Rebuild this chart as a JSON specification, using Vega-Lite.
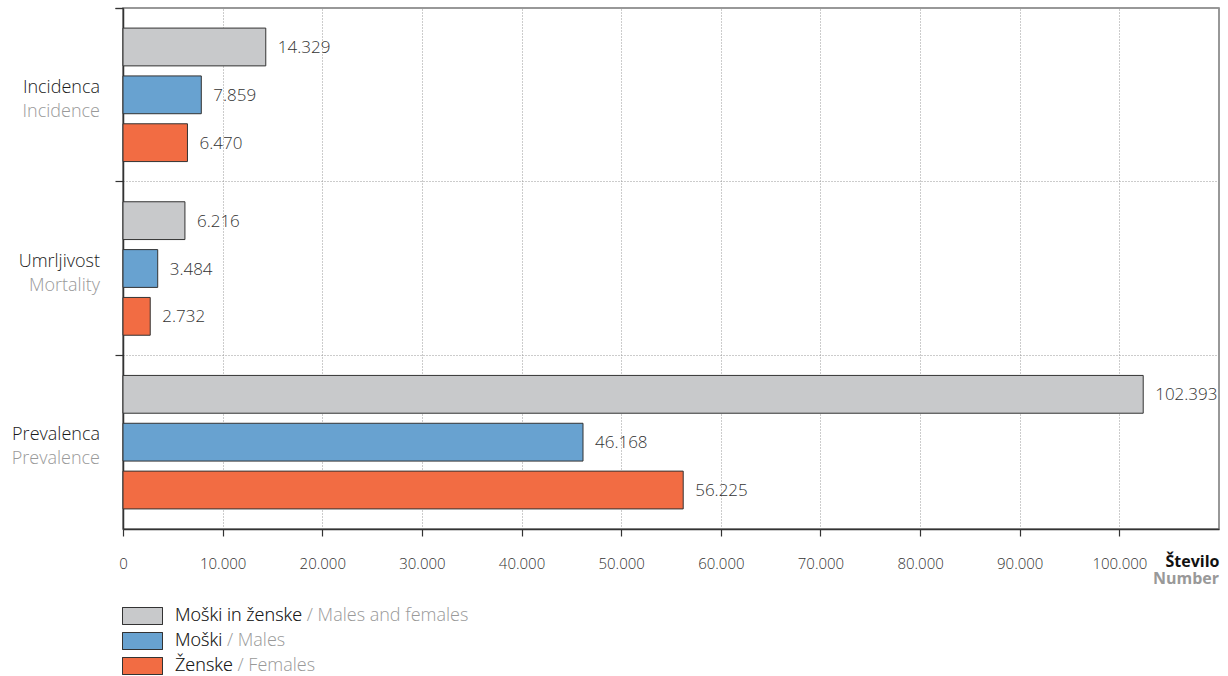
{
  "$schema": "https://vega.github.io/schema/vega-lite/v6.json",
  "width": 1096,
  "height": 521,
  "autosize": {"type": "none"},
  "padding": {"left": 123, "top": 8, "right": 9, "bottom": 147},
  "config": {
    "locale": {"number": {"decimal": ",", "thousands": ".", "grouping": [3], "currency": ["", " €"]}},
    "view": {"stroke": "#777777", "strokeWidth": 1.5},
    "font": "Open Sans"
  },
  "datasets": {
    "bars": [
      {"cat": "Incidenca", "group": "a", "lab_full": "Moški in ženske / Males and females", "lab_sl": "Moški in ženske", "value": 14329},
      {"cat": "Incidenca", "group": "b", "lab_full": "Moški / Males", "lab_sl": "Moški", "value": 7859},
      {"cat": "Incidenca", "group": "c", "lab_full": "Ženske / Females", "lab_sl": "Ženske", "value": 6470},
      {"cat": "Umrljivost", "group": "a", "lab_full": "Moški in ženske / Males and females", "lab_sl": "Moški in ženske", "value": 6216},
      {"cat": "Umrljivost", "group": "b", "lab_full": "Moški / Males", "lab_sl": "Moški", "value": 3484},
      {"cat": "Umrljivost", "group": "c", "lab_full": "Ženske / Females", "lab_sl": "Ženske", "value": 2732},
      {"cat": "Prevalenca", "group": "a", "lab_full": "Moški in ženske / Males and females", "lab_sl": "Moški in ženske", "value": 102393},
      {"cat": "Prevalenca", "group": "b", "lab_full": "Moški / Males", "lab_sl": "Moški", "value": 46168},
      {"cat": "Prevalenca", "group": "c", "lab_full": "Ženske / Females", "lab_sl": "Ženske", "value": 56225}
    ],
    "cats": [
      {"cat": "Incidenca", "cat_en": "Incidence"},
      {"cat": "Umrljivost", "cat_en": "Mortality"},
      {"cat": "Prevalenca", "cat_en": "Prevalence"}
    ],
    "unit": [{"t": "Number"}]
  },
  "layer": [
    {
      "data": {"name": "bars"},
      "mark": {"type": "bar", "stroke": "#333333", "strokeWidth": 1},
      "encoding": {
        "x": {
          "field": "value", "type": "quantitative",
          "scale": {"domain": [0, 110000], "nice": false, "zero": true},
          "axis": {
            "values": [0, 10000, 20000, 30000, 40000, 50000, 60000, 70000, 80000, 90000, 100000],
            "format": ",d",
            "title": "Število",
            "titleFont": "Open Sans", "titleFontWeight": "bold", "titleFontSize": 16, "titleColor": "#111111",
            "titleAlign": "right", "titleAnchor": "end", "titleX": 1096, "titleY": 37, "titleBaseline": "alphabetic",
            "labelFont": "Open Sans", "labelFontWeight": 300, "labelFontSize": 15, "labelColor": "#333333", "labelPadding": 20, "labelFlush": false,
            "tickSize": 7, "tickColor": "#333333", "tickWidth": 1.2,
            "domainColor": "#333333", "domainWidth": 1.5,
            "grid": true, "gridDash": [1, 2], "gridColor": "#999999", "gridWidth": 1
          }
        },
        "y": {
          "field": "cat", "type": "nominal",
          "sort": ["Incidenca", "Umrljivost", "Prevalenca"],
          "scale": {"paddingInner": 0, "paddingOuter": 0},
          "axis": {
            "labels": false, "title": null,
            "bandPosition": 0, "tickExtra": true,
            "tickSize": 8, "tickColor": "#333333", "tickWidth": 1.2,
            "domainColor": "#333333", "domainWidth": 1.5,
            "grid": true, "gridDash": [1, 2], "gridColor": "#999999", "gridWidth": 1
          }
        },
        "yOffset": {
          "field": "group", "type": "nominal", "sort": ["a", "b", "c"],
          "scale": {"paddingInner": 0.21, "paddingOuter": 0.42}
        },
        "color": {
          "field": "lab_full", "type": "nominal",
          "scale": {
            "domain": ["Moški in ženske / Males and females", "Moški / Males", "Ženske / Females"],
            "range": ["#c8c9cb", "#68a2d0", "#f26c43"]
          },
          "legend": {
            "orient": "none", "legendX": -1, "legendY": 599, "title": null, "padding": 0,
            "symbolType": "M-1,-1H3.706V1H-1Z", "symbolSize": 289,
            "symbolStrokeColor": "#333333", "symbolStrokeWidth": 1, "symbolOpacity": 1,
            "labelFont": "Open Sans", "labelFontWeight": 300, "labelFontSize": 18, "labelColor": "#999999",
            "labelOffset": 35, "rowPadding": 3, "labelLimit": 600
          }
        }
      }
    },
    {
      "data": {"name": "bars"},
      "mark": {"type": "bar", "opacity": 0},
      "encoding": {
        "x": {"field": "value", "type": "quantitative"},
        "y": {"field": "cat", "type": "nominal", "sort": ["Incidenca", "Umrljivost", "Prevalenca"]},
        "yOffset": {"field": "group", "type": "nominal", "sort": ["a", "b", "c"]},
        "color": {
          "field": "lab_sl", "type": "nominal",
          "scale": {
            "domain": ["Moški in ženske", "Moški", "Ženske"],
            "range": ["#c8c9cb", "#68a2d0", "#f26c43"]
          },
          "legend": {
            "orient": "none", "legendX": -1, "legendY": 599, "title": null, "padding": 0,
            "symbolType": "M-1,-1H3.706V1H-1Z", "symbolSize": 289,
            "symbolStrokeColor": "#333333", "symbolStrokeWidth": 1, "symbolOpacity": 1,
            "labelFont": "Open Sans", "labelFontWeight": 300, "labelFontSize": 18, "labelColor": "#1a1a1a",
            "labelOffset": 35, "rowPadding": 3, "labelLimit": 600
          }
        }
      }
    },
    {
      "data": {"name": "bars"},
      "mark": {"type": "text", "align": "left", "baseline": "middle", "dx": 12, "dy": 1, "fontSize": 17, "fontWeight": 300, "font": "Open Sans", "color": "#333333"},
      "encoding": {
        "x": {"field": "value", "type": "quantitative"},
        "y": {"field": "cat", "type": "nominal", "sort": ["Incidenca", "Umrljivost", "Prevalenca"]},
        "yOffset": {"field": "group", "type": "nominal", "sort": ["a", "b", "c"]},
        "text": {"field": "value", "type": "quantitative", "format": ",d"}
      }
    },
    {
      "data": {"name": "cats"},
      "mark": {"type": "text", "align": "right", "baseline": "alphabetic", "dx": -23, "dy": -2, "fontSize": 18, "fontWeight": 300, "font": "Open Sans", "color": "#1a1a1a"},
      "encoding": {
        "x": {"datum": 0, "type": "quantitative"},
        "y": {"field": "cat", "type": "nominal", "sort": ["Incidenca", "Umrljivost", "Prevalenca"]},
        "text": {"field": "cat"}
      }
    },
    {
      "data": {"name": "cats"},
      "mark": {"type": "text", "align": "right", "baseline": "alphabetic", "dx": -23, "dy": 22, "fontSize": 18, "fontWeight": 300, "font": "Open Sans", "color": "#999999"},
      "encoding": {
        "x": {"datum": 0, "type": "quantitative"},
        "y": {"field": "cat", "type": "nominal", "sort": ["Incidenca", "Umrljivost", "Prevalenca"]},
        "text": {"field": "cat_en"}
      }
    },
    {
      "data": {"name": "unit"},
      "mark": {"type": "text", "align": "right", "baseline": "alphabetic", "dy": 142, "fontSize": 16, "fontWeight": "bold", "font": "Open Sans", "color": "#999999"},
      "encoding": {
        "x": {"datum": 110000, "type": "quantitative"},
        "y": {"datum": "Prevalenca", "type": "nominal"},
        "text": {"field": "t"}
      }
    }
  ],
  "resolve": {"scale": {"color": "independent"}, "legend": {"color": "independent"}}
}
